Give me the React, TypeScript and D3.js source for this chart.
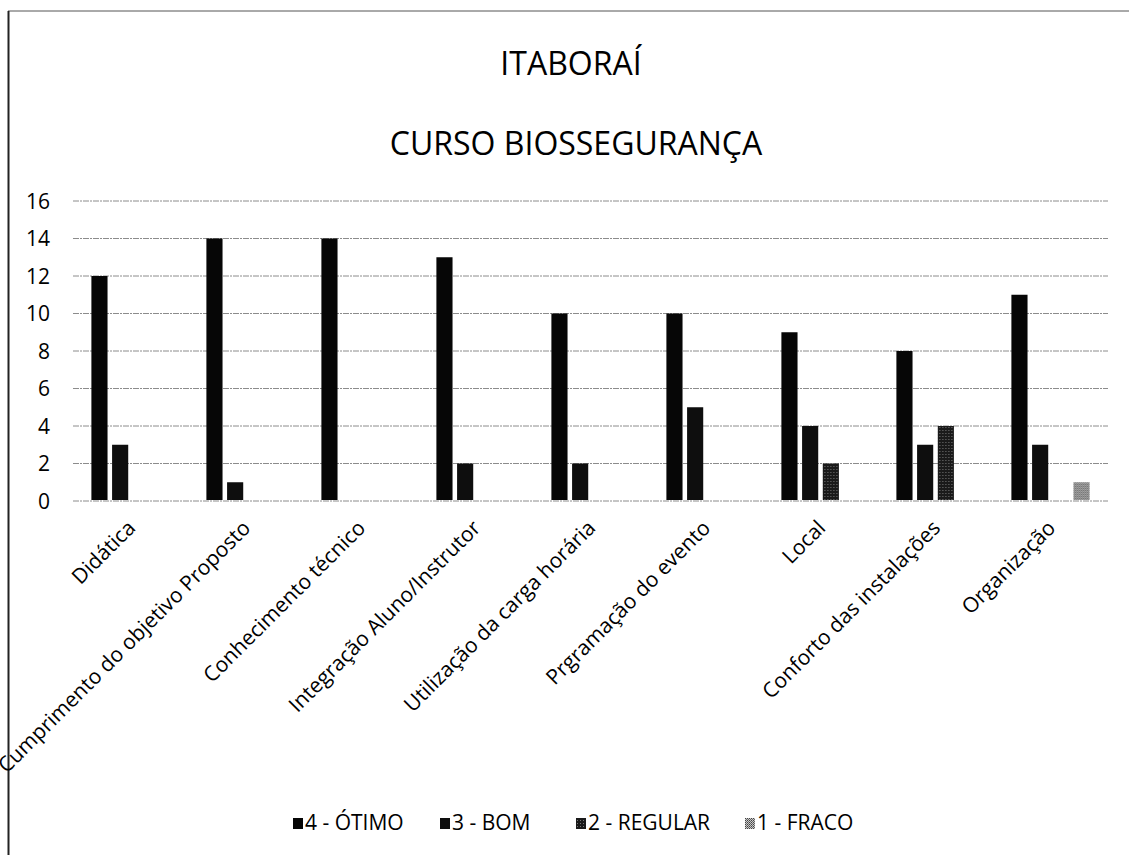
import * as d3 from 'd3'

const categories = [
  'Didática',
  'Cumprimento do objetivo Proposto',
  'Conhecimento técnico',
  'Integração Aluno/Instrutor',
  'Utilização da carga horária',
  'Prgramação do evento',
  'Local',
  'Conforto das instalações',
  'Organização',
]
const seriesNames = ['4 - ÓTIMO', '3 - BOM', '2 - REGULAR', '1 - FRACO']
const otimo = [12, 14, 14, 13, 10, 10, 9, 8, 11]
const bom = [3, 1, 0, 2, 2, 5, 4, 3, 3]
const regular = [0, 0, 0, 0, 0, 0, 2, 4, 0]
const fraco = [0, 0, 0, 0, 0, 0, 0, 0, 1]
const yTicks = [0, 2, 4, 6, 8, 10, 12, 14, 16]

const values = [otimo, bom, regular, fraco]
const fills = ['#060606', '#0e0e0e', 'url(#pRegular)', 'url(#pFraco)']

const width = 1129
const height = 855
const margin = { top: 201, right: 21, bottom: 354, left: 73 }
const font = "'Open Sans', sans-serif"
const legendX = [293, 440, 576, 745]

export default function App() {
  const x0 = d3.scaleBand<string>()
    .domain(categories)
    .range([margin.left, width - margin.right])
    .paddingInner(0.32)
    .paddingOuter(0.16)

  const x1 = d3.scaleBand<string>()
    .domain(seriesNames)
    .range([0, x0.bandwidth()])
    .paddingInner(0.22)

  const y = d3.scaleLinear()
    .domain([0, 16])
    .range([height - margin.bottom, margin.top])

  return (
    <svg width={width} height={height} style={{ position: 'absolute', left: 0, top: 0, background: '#fff' }}>
      <defs>
        <pattern id="pRegular" width="3" height="3" patternUnits="userSpaceOnUse">
          <rect width="3" height="3" fill="#1a1a1a" />
          <rect x="1" y="1" width="1" height="1" fill="#777" />
        </pattern>
        <pattern id="pFraco" width="2" height="2" patternUnits="userSpaceOnUse">
          <rect width="2" height="2" fill="#c8c8c8" />
          <rect width="1" height="1" fill="#444" />
          <rect x="1" y="1" width="1" height="1" fill="#666" />
        </pattern>
      </defs>

      {/* scan frame */}
      <line x1={8} x2={width} y1={11} y2={11} stroke="#555" strokeWidth={1} />
      <line x1={8.5} x2={8.5} y1={11} y2={height} stroke="#222" strokeWidth={2} />

      <text x={571} y={75} textAnchor="middle" fontFamily={font} fontSize={32} fill="#000">ITABORAÍ</text>
      <text x={576} y={155} textAnchor="middle" fontFamily={font} fontSize={32} fill="#000">CURSO BIOSSEGURANÇA</text>

      {/* gridlines + y labels */}
      {yTicks.map(t => (
        <g key={t}>
          <line
            x1={margin.left} x2={width - margin.right}
            y1={y(t)} y2={y(t)}
            stroke="#8c8c8c" strokeWidth={1} strokeDasharray="6,1,2,1"
          />
          <text x={50} y={y(t)} dy="0.36em" textAnchor="end" fontFamily={font} fontSize={21} fill="#000">{t}</text>
        </g>
      ))}

      {/* bars */}
      {categories.map((c, i) => (
        <g key={c} transform={`translate(${x0(c)},0)`}>
          {seriesNames.map((s, j) => values[j][i] > 0 && (
            <rect
              key={s}
              x={x1(s)}
              y={y(values[j][i])}
              width={x1.bandwidth()}
              height={y(0) - y(values[j][i]) - 1}
              fill={fills[j]}
            />
          ))}
        </g>
      ))}

      {/* category labels */}
      {categories.map(c => (
        <text
          key={c}
          transform={`translate(${(x0(c) ?? 0) + x0.bandwidth() / 2 + 1},${y(0) + 23}) rotate(-45)`}
          dy="0.35em"
          textAnchor="end"
          fontFamily={font}
          fontSize={21}
          fill="#000"
        >{c}</text>
      ))}

      {/* legend */}
      {seriesNames.map((s, j) => (
        <g key={s} transform={`translate(${legendX[j]},0)`}>
          <rect x={0} y={818} width={10} height={11} fill={fills[j]} />
          <text x={12} y={830} fontFamily={font} fontSize={21} fill="#000">{s}</text>
        </g>
      ))}
    </svg>
  )
}
